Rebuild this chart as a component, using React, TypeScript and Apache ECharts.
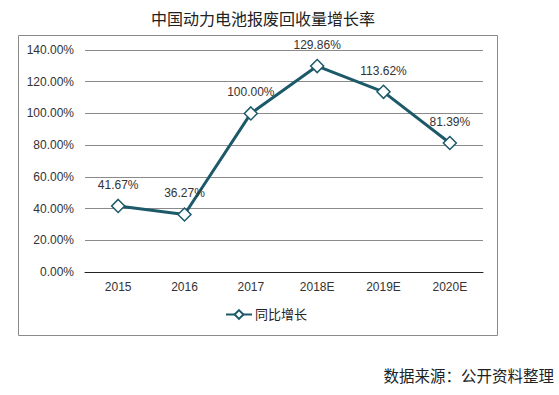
import React, { useEffect, useRef } from "react";
import * as echarts from "echarts";

const categories = ["2015", "2016", "2017", "2018E", "2019E", "2020E"];
const growth = [41.67, 36.27, 100.0, 129.86, 113.62, 81.39];
const seriesName = "同比增长";
const title = "中国动力电池报废回收量增长率";
const source = "数据来源：公开资料整理";

export default function App() {
  const ref = useRef<HTMLDivElement>(null);
  useEffect(() => {
    if (!ref.current) return;
    const chart = echarts.init(ref.current, undefined, { renderer: "svg" });
    const font = "Arial, 'Liberation Sans', 'Noto Sans CJK SC', sans-serif";
    chart.setOption({
      animation: false,
      backgroundColor: "#ffffff",
      textStyle: { fontFamily: font },
      title: {
        text: title,
        left: 258,
        textAlign: "center",
        top: 6,
        textStyle: { fontSize: 16, fontWeight: "normal", color: "#222", fontFamily: font },
      },
      graphic: [
        {
          type: "rect",
          shape: { x: 18.5, y: 35.5, width: 479, height: 300 },
          style: { fill: "none", stroke: "#8a8a8a", lineWidth: 1 },
          z: 0,
        },
        {
          type: "text",
          right: 5,
          top: 369,
          style: { text: source, fontSize: 15.5, fill: "#222", fontFamily: font },
        },
      ],
      legend: {
        data: [seriesName],
        left: 220,
        top: 303,
        itemWidth: 26,
        itemHeight: 11,
        itemGap: 4,
        textStyle: { fontSize: 13, color: "#222", padding: [0, 0, 0, -2] },
      },
      grid: { left: 85, right: 76, top: 50, bottom: 123, containLabel: false },
      xAxis: {
        type: "category",
        data: categories,
        boundaryGap: true,
        axisLine: { lineStyle: { color: "#222", width: 1 } },
        axisTick: { show: false },
        axisLabel: { fontSize: 12, color: "#333", margin: 9 },
      },
      yAxis: {
        type: "value",
        min: 0,
        max: 140,
        interval: 20,
        axisLine: { show: false },
        axisTick: { show: false },
        splitLine: { lineStyle: { color: "#8a8a8a", width: 1 } },
        axisLabel: {
          fontSize: 12,
          color: "#333",
          margin: 11,
          formatter: (v: number) => v.toFixed(2) + "%",
        },
      },
      series: [
        {
          name: seriesName,
          type: "line",
          data: growth,
          symbol: "diamond",
          symbolSize: 13,
          lineStyle: { color: "#1c5a6a", width: 3 },
          itemStyle: { color: "#ffffff", borderColor: "#1c5a6a", borderWidth: 1.5 },
          label: {
            show: true,
            position: "top",
            distance: 8,
            fontSize: 12,
            color: "#333",
            formatter: (p: any) => p.value.toFixed(2) + "%",
          },
        },
      ],
    });
    return () => chart.dispose();
  }, []);
  return <div ref={ref} style={{ width: 559, height: 395, position: "absolute", left: 0, top: 0 }} />;
}
